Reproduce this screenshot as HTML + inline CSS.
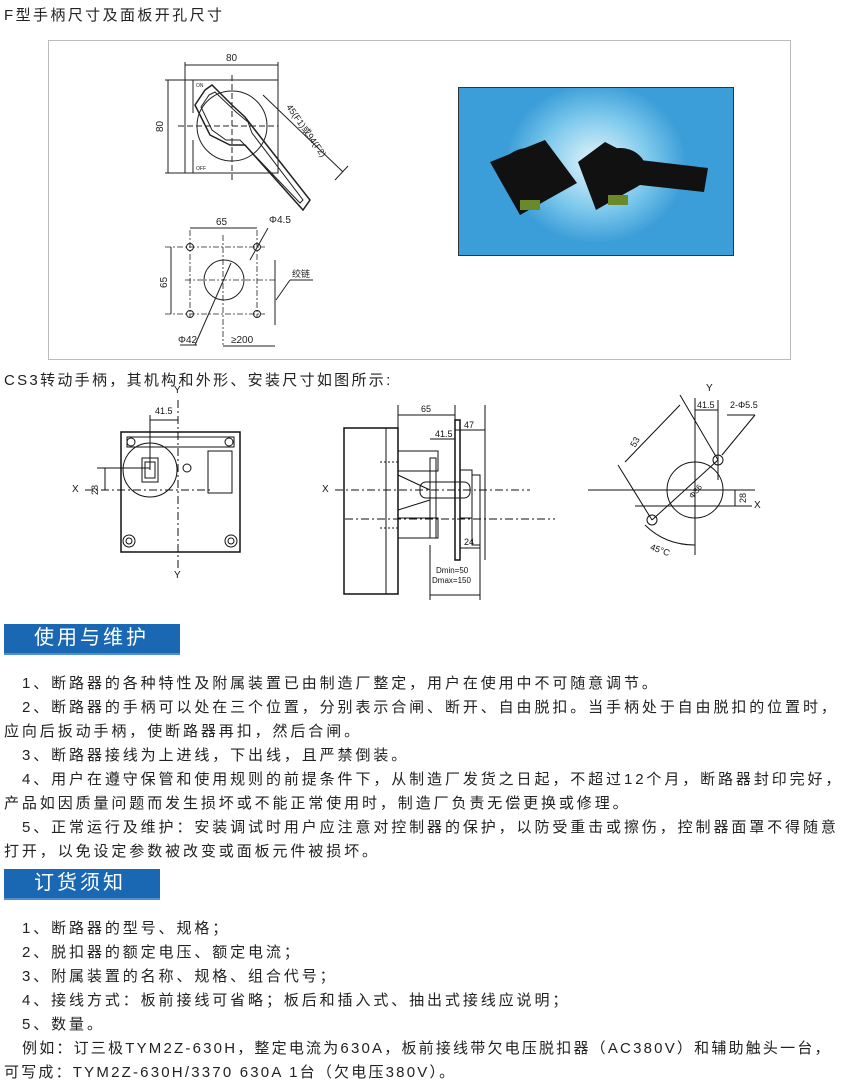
<!DOCTYPE html>
<html><head><meta charset="utf-8"><style>
body{margin:0;background:#fff;width:849px;height:1085px;position:relative;overflow:hidden;font-family:"Liberation Sans","Noto Sans CJK SC",sans-serif;color:#222}
.t{position:absolute;font-size:15px;white-space:nowrap;letter-spacing:2.9px}
.hd{position:absolute;left:4px;background:#1a68b3;color:#fff;font-size:20px;letter-spacing:3px;padding-left:30px;box-sizing:border-box;line-height:29px;border-bottom:2px solid #4d8fd0}
svg{position:absolute;left:0;top:0}
</style></head><body>
<div class="t" style="left:4px;top:4px;font-size:15px;letter-spacing:2.4px">F型手柄尺寸及面板开孔尺寸</div>
<div style="position:absolute;left:48px;top:40px;width:741px;height:318px;border:1px solid #bbb"></div>
<div style="position:absolute;left:458px;top:87px;width:274px;height:167px;border:1px solid #333;background:radial-gradient(ellipse 90px 80px at 50% 45%,#e8f6fc,#7cc8ec 60%,#3c9ed8)"></div>
<svg width="849" height="1085" font-family="Liberation Sans" font-size="10" fill="none" stroke="#222">
<g fill="#111" stroke="none">
<polygon points="490,162 545,140 577,183 520,215"/>
<ellipse cx="528" cy="172" rx="27" ry="24"/>
<polygon points="578,162 605,142 640,160 708,168 704,192 640,185 640,185 596,210"/>
<ellipse cx="620" cy="170" rx="26" ry="22"/>
</g>
<rect x="520" y="200" width="20" height="10" fill="#6a8a2a" stroke="none"/>
<rect x="608" y="195" width="20" height="10" fill="#6a8a2a" stroke="none"/>
<g stroke-width="1">
<rect x="185" y="80" width="93" height="93"/>
<line x1="193" y1="80" x2="193" y2="113"/><line x1="193" y1="140" x2="193" y2="173"/>
<circle cx="232" cy="126" r="35"/>
<line x1="232" y1="75" x2="232" y2="180" stroke-dasharray="6,3"/>
<line x1="178" y1="126" x2="278" y2="126" stroke-dasharray="6,3"/>
<line x1="185" y1="65" x2="278" y2="65"/><line x1="185" y1="62" x2="185" y2="80"/><line x1="278" y1="62" x2="278" y2="80"/>
<line x1="168" y1="80" x2="168" y2="173"/><line x1="165" y1="80" x2="185" y2="80"/><line x1="165" y1="173" x2="185" y2="173"/>
<path d="M205,90 L212,85 L232,105 L245,117 L255,130 L310,200 L303,210 L245,145 L230,145 L210,135 L195,105 Z" stroke-width="1.5"/>
<path d="M209,95 L215,92 L236,112 L248,122 L252,133 L303,200 L300,203 L240,140 L226,140 L212,130 L201,107 Z"/>
<line x1="263" y1="95" x2="343" y2="172"/><line x1="335" y1="180" x2="348" y2="166"/>
</g>
<g fill="#222" stroke="none">
<text x="226" y="61" font-size="10">80</text>
<text x="0" y="0" transform="translate(163,132) rotate(-90)">80</text>
<text x="0" y="0" font-size="9" transform="translate(286,107) rotate(55)">45(F1)或94(F2)</text>
<text x="196" y="87" font-size="5">ON</text><text x="196" y="170" font-size="5">OFF</text>
</g>
<g>
<circle cx="190" cy="247" r="3.5"/><circle cx="257" cy="247" r="3.5"/><circle cx="190" cy="314" r="3.5"/><circle cx="257" cy="314" r="3.5"/>
<circle cx="224" cy="280" r="20"/>
<g stroke-dasharray="6,2,2,2" stroke-width="0.8">
<line x1="165" y1="247" x2="265" y2="247"/><line x1="165" y1="314" x2="265" y2="314"/><line x1="185" y1="280" x2="275" y2="280"/>
<line x1="190" y1="230" x2="190" y2="318"/><line x1="257" y1="230" x2="257" y2="318"/><line x1="223" y1="235" x2="223" y2="345"/>
</g>
<line x1="190" y1="228" x2="257" y2="228"/><line x1="171" y1="247" x2="171" y2="314"/>
<line x1="275" y1="260" x2="275" y2="325"/>
<line x1="290" y1="280" x2="313" y2="280"/><line x1="290" y1="280" x2="276" y2="300"/>
<line x1="268" y1="228" x2="250" y2="260"/>
<line x1="195" y1="345" x2="231" y2="263"/><line x1="180" y1="345" x2="197" y2="345"/>
<line x1="223" y1="346" x2="275" y2="346"/>
</g>
<g fill="#222" stroke="none" font-size="10">
<text x="216" y="225">65</text><text x="0" y="0" transform="translate(167,288) rotate(-90)">65</text>
<text x="269" y="223">Φ4.5</text><text x="292" y="277" font-size="9" font-family="Noto Sans CJK SC">绞链</text>
<text x="178" y="343">Φ42</text><text x="231" y="343">≥200</text>
</g>
</svg>
<div class="t" style="left:4px;top:369px;font-size:15px;letter-spacing:2.3px">CS3转动手柄，其机构和外形、安装尺寸如图所示:</div>
<svg width="849" height="1085" font-family="Liberation Sans" font-size="9" fill="none" stroke="#111">
<rect x="121" y="432" width="119" height="120" stroke-width="1.5"/>
<rect x="127" y="437" width="107" height="10"/><circle cx="131" cy="442" r="4"/><circle cx="229" cy="442" r="4"/>
<circle cx="150" cy="470" r="27"/><rect x="142" y="458" width="16" height="24"/><rect x="145" y="462" width="10" height="16"/>
<circle cx="187" cy="468" r="4"/><rect x="208" y="451" width="24" height="42"/>
<circle cx="129" cy="541" r="6"/><circle cx="129" cy="541" r="3"/><circle cx="231" cy="541" r="6"/><circle cx="231" cy="541" r="3"/>
<line x1="178" y1="400" x2="178" y2="570" stroke-dasharray="8,3,2,3"/>
<line x1="85" y1="490" x2="210" y2="490" stroke-dasharray="8,3,2,3"/>
<line x1="150" y1="420" x2="178" y2="420"/><line x1="150" y1="415" x2="150" y2="470"/>
<line x1="105" y1="468" x2="105" y2="490"/><line x1="97" y1="468" x2="150" y2="468"/>
<rect x="344" y="428" width="54" height="166" stroke-width="1.5"/><line x1="386" y1="428" x2="386" y2="594"/>
<rect x="398" y="451" width="40" height="20"/><rect x="398" y="518" width="40" height="20"/>
<line x1="380" y1="462" x2="398" y2="462" stroke-dasharray="2,2"/><line x1="380" y1="528" x2="398" y2="528" stroke-dasharray="2,2"/>
<rect x="430" y="458" width="6" height="80"/>
<rect x="455" y="420" width="5" height="140" stroke-width="1.5"/>
<rect x="460" y="470" width="12" height="48"/><rect x="472" y="475" width="8" height="70"/>
<rect x="420" y="482" width="50" height="16" rx="6"/>
<line x1="398" y1="475" x2="430" y2="490"/><line x1="398" y1="510" x2="430" y2="500"/>
<line x1="335" y1="490" x2="530" y2="490" stroke-dasharray="8,3,2,3"/>
<line x1="345" y1="519" x2="555" y2="519" stroke-dasharray="8,3,2,3"/>
<line x1="398" y1="405" x2="398" y2="428"/><line x1="455" y1="405" x2="455" y2="420"/><line x1="485" y1="405" x2="485" y2="560"/>
<line x1="398" y1="415" x2="455" y2="415"/><line x1="430" y1="439" x2="455" y2="439"/><line x1="455" y1="430" x2="485" y2="430"/>
<line x1="460" y1="548" x2="480" y2="548"/>
<line x1="430" y1="545" x2="430" y2="600"/><line x1="480" y1="545" x2="480" y2="600"/><line x1="430" y1="595" x2="480" y2="595"/>
<line x1="695" y1="398" x2="695" y2="555"/><line x1="718" y1="400" x2="718" y2="480"/>
<circle cx="695" cy="490" r="28"/>
<line x1="588" y1="490" x2="755" y2="490"/><line x1="635" y1="506" x2="752" y2="506"/>
<circle cx="718" cy="460" r="5"/><circle cx="652" cy="520" r="5"/>
<line x1="652" y1="520" x2="718" y2="460"/>
<line x1="680" y1="395" x2="718" y2="460"/><line x1="618" y1="465" x2="652" y2="520"/>
<line x1="625" y1="462" x2="680" y2="405"/>
<line x1="695" y1="410" x2="718" y2="410"/><line x1="727" y1="415" x2="755" y2="415"/><line x1="755" y1="415" x2="722" y2="455"/>
<line x1="735" y1="490" x2="735" y2="506"/>
<path d="M645,525 Q665,545 695,545"/>
</svg>
<div style="font-family:'Liberation Sans',sans-serif;font-size:10px;color:#111">
<div class="t" style="font-size:10px;letter-spacing:0;left:174px;top:385px">Y</div><div class="t" style="font-size:10px;letter-spacing:0;left:174px;top:570px">Y</div>
<div class="t" style="font-size:10px;letter-spacing:0;left:72px;top:484px">X</div><div class="t" style="font-size:9px;letter-spacing:0;left:155px;top:406px">41.5</div>
<div class="t" style="font-size:9px;letter-spacing:0;left:90px;top:485px;transform:rotate(-90deg)">28</div>
<div class="t" style="font-size:10px;letter-spacing:0;left:322px;top:484px">X</div>
<div class="t" style="font-size:9px;letter-spacing:0;left:421px;top:404px">65</div><div class="t" style="font-size:9px;letter-spacing:0;left:435px;top:429px">41.5</div><div class="t" style="font-size:9px;letter-spacing:0;left:464px;top:420px">47</div>
<div class="t" style="font-size:9px;letter-spacing:0;left:464px;top:537px">24</div>
<div class="t" style="font-size:8px;letter-spacing:0;left:436px;top:566px">Dmin=50</div><div class="t" style="font-size:8px;letter-spacing:0;left:432px;top:576px">Dmax=150</div>
<div class="t" style="font-size:10px;letter-spacing:0;left:706px;top:383px">Y</div><div class="t" style="font-size:9px;letter-spacing:0;left:697px;top:400px">41.5</div>
<div class="t" style="font-size:9px;letter-spacing:0;left:730px;top:400px">2-Φ5.5</div><div class="t" style="font-size:10px;letter-spacing:0;left:754px;top:500px">X</div>
<div class="t" style="font-size:9px;letter-spacing:0;left:630px;top:437px;transform:rotate(-60deg)">53</div>
<div class="t" style="font-size:8px;letter-spacing:0;left:688px;top:487px;transform:rotate(-50deg)">Φ36</div>
<div class="t" style="font-size:9px;letter-spacing:0;left:738px;top:493px;transform:rotate(-90deg)">28</div>
<div class="t" style="font-size:9px;letter-spacing:0;left:650px;top:545px;transform:rotate(20deg)">45°C</div>
</div>
<div class="hd" style="top:624px;width:176px;height:31px">使用与维护</div>
<div class="t" style="left:22px;top:672px">1、断路器的各种特性及附属装置已由制造厂整定，用户在使用中不可随意调节。</div>
<div class="t" style="left:22px;top:696px">2、断路器的手柄可以处在三个位置，分别表示合闸、断开、自由脱扣。当手柄处于自由脱扣的位置时，</div>
<div class="t" style="left:4px;top:720px">应向后扳动手柄，使断路器再扣，然后合闸。</div>
<div class="t" style="left:22px;top:744px">3、断路器接线为上进线，下出线，且严禁倒装。</div>
<div class="t" style="left:22px;top:768px">4、用户在遵守保管和使用规则的前提条件下，从制造厂发货之日起，不超过12个月，断路器封印完好，</div>
<div class="t" style="left:4px;top:792px">产品如因质量问题而发生损坏或不能正常使用时，制造厂负责无偿更换或修理。</div>
<div class="t" style="left:22px;top:816px">5、正常运行及维护：安装调试时用户应注意对控制器的保护，以防受重击或擦伤，控制器面罩不得随意</div>
<div class="t" style="left:4px;top:840px">打开，以免设定参数被改变或面板元件被损坏。</div>
<div class="hd" style="top:869px;width:156px;height:31px">订货须知</div>
<div class="t" style="left:22px;top:917px">1、断路器的型号、规格；</div>
<div class="t" style="left:22px;top:941px">2、脱扣器的额定电压、额定电流；</div>
<div class="t" style="left:22px;top:965px">3、附属装置的名称、规格、组合代号；</div>
<div class="t" style="left:22px;top:989px">4、接线方式：板前接线可省略；板后和插入式、抽出式接线应说明；</div>
<div class="t" style="left:22px;top:1013px">5、数量。</div>
<div class="t" style="left:22px;top:1037px;letter-spacing:2.2px">例如：订三极TYM2Z-630H，整定电流为630A，板前接线带欠电压脱扣器（AC380V）和辅助触头一台，</div>
<div class="t" style="left:4px;top:1061px;letter-spacing:2.2px">可写成：TYM2Z-630H/3370  630A  1台（欠电压380V）。</div>
</body></html>
